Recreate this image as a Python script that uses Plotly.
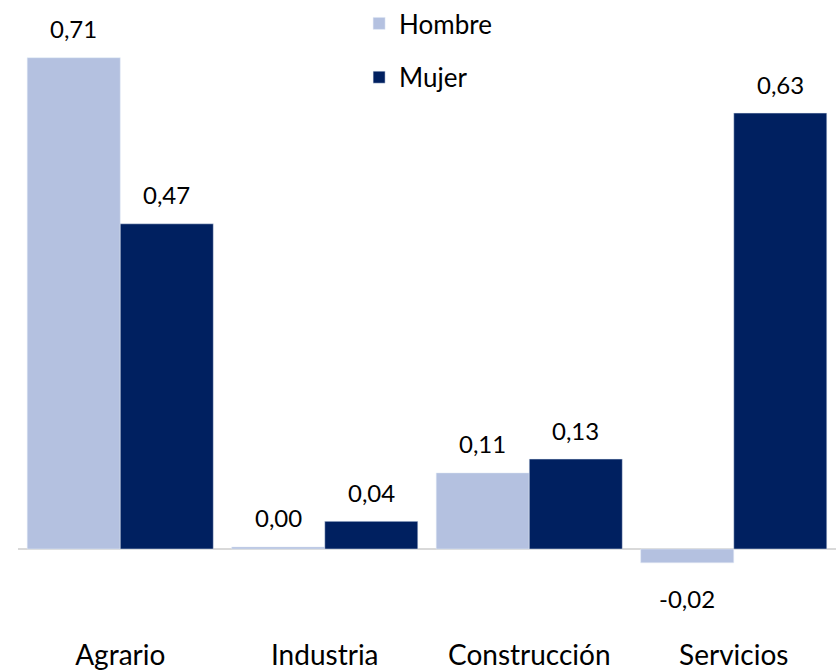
import plotly.graph_objects as go

categories = ["Agrario", "Industria", "Construcción", "Servicios"]
hombre = [0.71, 0.003, 0.11, -0.02]
mujer = [0.47, 0.04, 0.13, 0.63]

c_h = "#B4C1E0"
c_m = "#002060"
font_family = "Lato, 'Open Sans', sans-serif"

fig = go.Figure()
fig.add_trace(go.Bar(name="Hombre", x=categories, y=hombre, marker_color=c_h,
                     legendgroup="h"))
fig.add_trace(go.Bar(name="Mujer", x=categories, y=mujer, marker_color=c_m,
                     legendgroup="m"))

def fmt(v):
    return f"{v:.2f}".replace(".", ",")

ann = []
for series, shift in ((hombre, -46.5), (mujer, 46.5)):
    for cat, v in zip(categories, series):
        ann.append(dict(x=cat, y=v, xref="x", yref="y", text=fmt(v), showarrow=False,
                        xshift=shift, yshift=(29 if v >= 0 else -36), yanchor="middle",
                        font=dict(size=24, color="#000000", family=font_family)))

fig.update_layout(
    width=836, height=672,
    margin=dict(l=18, r=0, t=0, b=36),
    paper_bgcolor="white", plot_bgcolor="white",
    barmode="group", bargap=0.09, bargroupgap=0,
    font=dict(family=font_family, size=26, color="#000000"),
    showlegend=True,
    legend=dict(x=0.417, xanchor="left", y=1.0, yanchor="top",
                font=dict(size=26), tracegroupgap=17, bgcolor="rgba(0,0,0,0)"),
    annotations=ann,
)
fig.update_xaxes(showline=False, showgrid=False, ticks="", tickfont=dict(size=28),
                 automargin=False)
fig.update_yaxes(range=[-0.1257, 0.7934], showticklabels=False, showgrid=False,
                 zeroline=True, zerolinecolor="#D9D9D9", zerolinewidth=2,
                 automargin=False)

fig.write_html("out.html", config={"displayModeBar": False},
               post_script="document.body.style.margin='0';")
